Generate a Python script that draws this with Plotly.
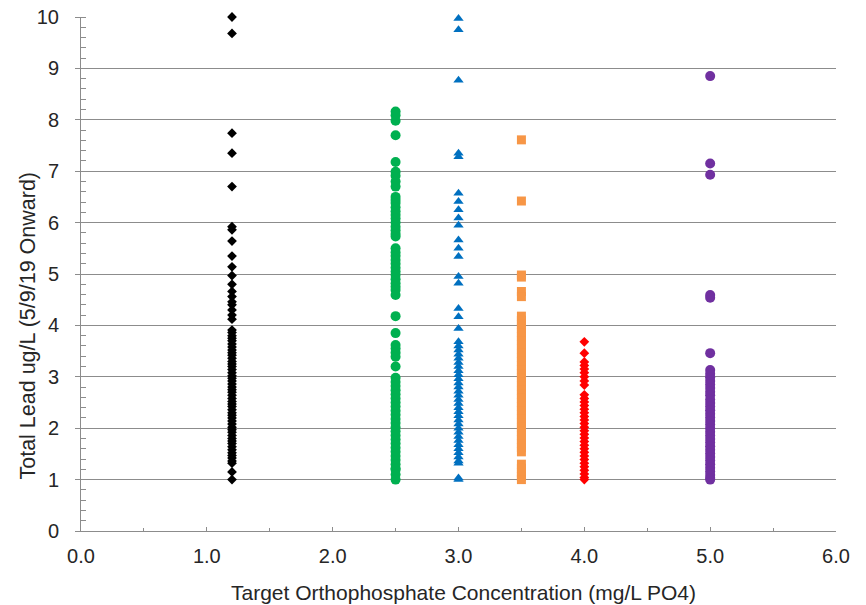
import plotly.graph_objects as go

# ---- data ----
x_black = 1.2
y_black = [10.0, 9.68, 7.74, 7.35, 6.70, 5.92, 5.86, 5.64, 5.35, 5.14, 4.97, 4.80, 4.66,
           4.56, 4.46, 4.40, 4.30, 4.20, 4.12, 3.91, 3.86, 3.80, 3.75, 3.70, 3.64, 3.58,
           3.52, 3.47, 3.42, 3.36, 3.30, 3.25, 3.20, 3.14, 3.08, 3.02, 2.97, 2.92, 2.86,
           2.80, 2.75, 2.70, 2.64, 2.58, 2.52, 2.47, 2.42, 2.36, 2.30, 2.25, 2.20, 2.14,
           2.08, 2.02, 1.97, 1.92, 1.86, 1.80, 1.75, 1.70, 1.64, 1.58, 1.52, 1.47, 1.42,
           1.36, 1.32, 1.15, 1.0]

x_green = 2.5
y_green = [8.16, 8.09, 7.98, 7.70, 7.18, 6.99, 6.91, 6.80, 6.70, 6.50, 6.44, 6.38, 6.30,
           6.22, 6.15, 6.08, 6.00, 5.92, 5.85, 5.78, 5.73, 5.50, 5.42, 5.35, 5.27, 5.20,
           5.12, 5.05, 4.98, 4.90, 4.82, 4.75, 4.69, 4.59, 4.18, 3.85, 3.62, 3.55, 3.47,
           3.39, 3.20, 2.98, 2.90, 2.82, 2.74, 2.66, 2.58, 2.50, 2.42, 2.34, 2.26, 2.18,
           2.10, 2.02, 1.94, 1.86, 1.78, 1.70, 1.62, 1.54, 1.46, 1.38, 1.30, 1.22, 1.19,
           1.10, 1.0]

x_blue = 3.0
y_blue = [9.97, 9.75, 8.77, 7.35, 7.28, 6.57, 6.41, 6.25, 6.09, 5.95, 5.66, 5.50, 5.34,
          4.95, 4.82, 4.33, 4.17, 3.94, 3.68, 3.60, 3.52, 3.44, 3.36, 3.28, 3.20, 3.12,
          3.04, 2.96, 2.88, 2.80, 2.72, 2.64, 2.56, 2.48, 2.40, 2.32, 2.24, 2.16, 2.08,
          2.00, 1.92, 1.84, 1.76, 1.68, 1.60, 1.52, 1.44, 1.36, 1.32, 1.03, 1.0]

x_orange = 3.5
y_orange = [7.61, 6.42, 4.98, 4.94, 4.66, 4.56, 4.18, 4.10, 4.02, 3.94, 3.86, 3.78, 3.70,
            3.62, 3.54, 3.46, 3.38, 3.30, 3.22, 3.14, 3.06, 2.98, 2.90, 2.82, 2.74, 2.66,
            2.58, 2.50, 2.42, 2.34, 2.26, 2.18, 2.10, 2.02, 1.94, 1.86, 1.78, 1.70, 1.62,
            1.54, 1.30, 1.22, 1.14, 1.06, 1.0]

x_red = 4.0
y_red = [3.68, 3.46, 3.29, 3.22, 3.15, 3.08, 3.00, 2.92, 2.84, 2.65, 2.58, 2.51, 2.44,
         2.37, 2.30, 2.23, 2.16, 2.09, 2.02, 1.95, 1.88, 1.81, 1.74, 1.67, 1.60, 1.53,
         1.46, 1.39, 1.32, 1.25, 1.18, 1.11, 1.04, 1.0]

x_purple = 5.0
y_purple = [8.85, 7.15, 6.93, 4.59, 4.54, 3.46, 3.13, 3.06, 2.99, 2.92, 2.85, 2.78, 2.71,
            2.64, 2.56, 2.49, 2.42, 2.35, 2.28, 2.21, 2.14, 2.07, 2.00, 1.93, 1.86, 1.79,
            1.72, 1.65, 1.58, 1.51, 1.44, 1.37, 1.30, 1.23, 1.16, 1.09, 1.03, 1.0]

x_title = "Target Orthophosphate Concentration (mg/L PO4)"
y_title = "Total Lead ug/L (5/9/19 Onward)"

series = [
    (x_black, y_black, "#000000", "diamond", 7.5),
    (x_green, y_green, "#00B050", "circle", 10),
    (x_blue, y_blue, "#0070C0", "triangle-up", 9),
    (x_orange, y_orange, "#F79646", "square", 9),
    (x_red, y_red, "#FF0000", "diamond", 7.5),
    (x_purple, y_purple, "#7030A0", "circle", 10),
]

fig = go.Figure()
for xv, ys, col, sym, sz in series:
    fig.add_trace(go.Scatter(
        x=[xv] * len(ys), y=ys, mode="markers", cliponaxis=False,
        marker=dict(color=col, symbol=sym, size=sz, line=dict(width=0)),
        showlegend=False, hoverinfo="x+y"))

font_family = "Liberation Sans, Arial, sans-serif"
txt_col = "#262626"
grid_col = "#8C8C8C"

fig.update_layout(
    width=866, height=605,
    margin=dict(l=81, r=30, t=17, b=74, autoexpand=False),
    paper_bgcolor="white", plot_bgcolor="white",
    font=dict(family=font_family, size=20, color=txt_col),
    xaxis=dict(range=[0, 6], dtick=1, tick0=0, tickformat=".1f", automargin=False,
               showgrid=False, zeroline=False,
               showline=True, linecolor=grid_col, linewidth=1,
               ticks="inside", ticklen=4, tickcolor=grid_col,
               ticklabelstandoff=7,
               minor=dict(ticks="inside", dtick=0.5, ticklen=3, tickcolor=grid_col, showgrid=False),
               tickfont=dict(size=20, color=txt_col, family=font_family)),
    yaxis=dict(range=[0, 10], dtick=1, tick0=0, automargin=False,
               showgrid=True, gridcolor=grid_col, gridwidth=1, zeroline=False,
               showline=True, linecolor=grid_col, linewidth=1,
               ticks="outside", ticklen=5, tickcolor=grid_col,
               ticklabelstandoff=12,
               minor=dict(ticks="inside", dtick=0.2, ticklen=5, tickcolor=grid_col, showgrid=False),
               tickfont=dict(size=20, color=txt_col, family=font_family)),
    annotations=[
        dict(text=x_title, xref="paper", yref="paper", x=0.507, y=-0.12,
             yanchor="middle", xanchor="center", showarrow=False,
             font=dict(size=21, color=txt_col, family=font_family)),
        dict(text=y_title, xref="paper", yref="paper", x=-0.07, y=0.40,
             xanchor="center", yanchor="middle", textangle=-90, showarrow=False,
             font=dict(size=21.5, color=txt_col, family=font_family)),
    ],
)

fig.write_html("out.html")
